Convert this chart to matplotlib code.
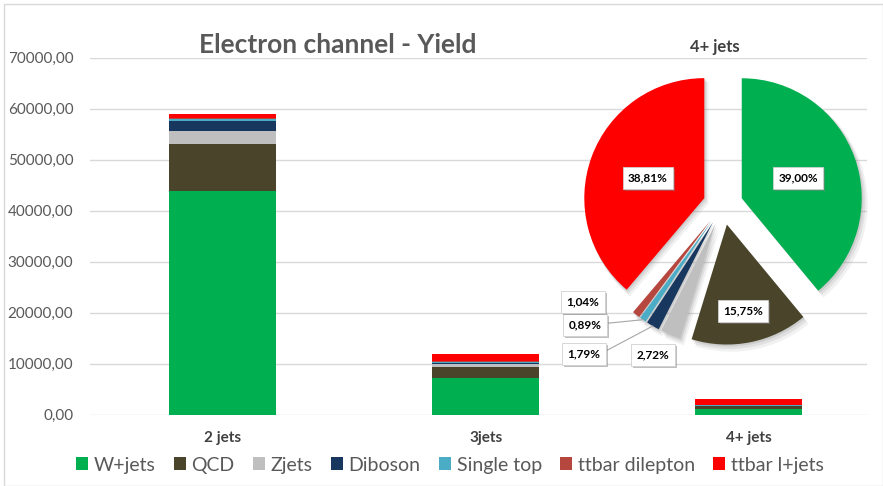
import numpy as np
import matplotlib
matplotlib.use('Agg')
import matplotlib.pyplot as plt
import matplotlib.patheffects as pe
from matplotlib.patches import Rectangle, Wedge

plt.rcParams['font.family'] = ['Lato', 'DejaVu Sans']

# event yields per jet bin, electron channel
categories = ['2 jets', '3jets', '4+ jets']
processes = ['W+jets', 'QCD', 'Zjets', 'Diboson', 'Single top', 'ttbar dilepton', 'ttbar l+jets']
colors = ['#00B050', '#4A452A', '#BFBFBF', '#17375E', '#4BACC6', '#B5473F', '#FF0000']

yield_2j = [43900, 9220, 2410, 1970, 400, 260, 850]
yield_3j = [7140, 2220, 590, 280, 110, 200, 1370]
# 4+ jets: composition in percent and total yield
frac_4j = [39.00, 15.75, 2.72, 1.79, 0.89, 1.04, 38.81]
total_4j = 3000
yield_4j = [f * total_4j / 100 for f in frac_4j]

W, H = 883, 486
fig = plt.figure(figsize=(W / 100, H / 100), dpi=100)

# ---- stacked bars ----
ax = fig.add_axes([90 / W, 1 - 414.7 / H, (867 - 90) / W, (414.7 - 57.7) / H])
x = np.arange(len(categories))
table = np.array([yield_2j, yield_3j, yield_4j])
bottom = np.zeros(len(categories))
for i, (name, c) in enumerate(zip(processes, colors)):
    ax.bar(x, table[:, i], 0.406, bottom=bottom, color=c, label=name, zorder=2)
    bottom += table[:, i]

ax.set_xlim(-0.503, 2.449)
ax.set_ylim(0, 70000)
ax.set_yticks(np.arange(0, 70001, 10000))
ax.yaxis.set_major_formatter(lambda v, p: f'{v:.2f}'.replace('.', ','))
ax.set_xticks(x)
ax.set_xticklabels(categories, fontweight='bold')
ax.grid(axis='y', color='#D9D9D9', lw=1, zorder=0)
for s in ax.spines.values():
    s.set_visible(False)
ax.tick_params(length=0)
ax.tick_params(axis='y', labelsize=11, labelcolor='#595959', pad=12)
ax.tick_params(axis='x', labelsize=11, labelcolor='#404040', pad=12)

ax.legend(loc='center', bbox_to_anchor=(450 / W, 1 - 465 / H),
          bbox_transform=fig.transFigure, ncol=7, frameon=False,
          handlelength=0.6, handleheight=0.6, handletextpad=0.3,
          columnspacing=0.95, fontsize=14, labelcolor='#595959')

fig.text(337.5 / W, 1 - 45 / H, 'Electron channel - Yield', ha='center', va='center',
         fontsize=19, fontweight='bold', color='#595959')

# ---- 4+ jets composition pie ----
pax = fig.add_axes([573 / W, 1 - 355 / H, 300 / W, 300 / H])
pax.patch.set_alpha(0)
explode = [0.166] * len(frac_4j)
wedges, _ = pax.pie(frac_4j, colors=colors, startangle=90, counterclock=False,
                    explode=explode, radius=1, wedgeprops=dict(lw=0, zorder=2))
# soft drop shadow under the slices
for w in wedges:
    cx, cy = w.center
    for k, a in [(0.035, 0.10), (0.022, 0.15), (0.010, 0.20)]:
        pax.add_patch(Wedge((cx + k, cy - k * 1.3), 1 + k * 0.4, w.theta1, w.theta2,
                            fc='#7F7F7F', alpha=a, lw=0, zorder=1))
pax.set_xlim(-1.25, 1.25)
pax.set_ylim(-1.25, 1.25)

label_pos = [(0.625, 0.225), (0.167, -0.883), (-0.583, -1.25), (-1.158, -1.242),
             (-1.15, -1.0), (-1.167, -0.808), (-0.625, 0.225)]
box = dict(boxstyle='square,pad=0.45', fc='white', ec='#D0D0D0', lw=0.6)
for w, f, (lx, ly) in zip(wedges, frac_4j, label_pos):
    t = pax.text(lx, ly, f'{f:.2f}%'.replace('.', ','), ha='center', va='center',
                 fontsize=8.5, fontweight='bold', color='black', bbox=box, zorder=5)
    t.get_bbox_patch().set_path_effects([
        pe.SimplePatchShadow(offset=(1.5, -1.5), shadow_rgbFace='#808080', alpha=0.5),
        pe.Normal()])

# leader lines for the two thinnest slices
for idx, (lx, ly) in [(4, (-0.96, -0.985)), (3, (-0.965, -1.21))]:
    w = wedges[idx]
    mid = np.deg2rad((w.theta1 + w.theta2) / 2)
    cx, cy = w.center
    pax.plot([lx, cx + np.cos(mid)], [ly, cy + np.sin(mid)], color='#A6A6A6', lw=0.8, zorder=4)

fig.text(715 / W, 1 - 47 / H, '4+ jets', ha='center', va='center',
         fontsize=12, fontweight='bold', color='#404040')

fig.add_artist(Rectangle((4 / W, 0), (W - 4) / W, (H - 4) / H, transform=fig.transFigure,
                         fill=False, ec='#D9D9D9', lw=1))

fig.savefig('out.png', dpi=100)
